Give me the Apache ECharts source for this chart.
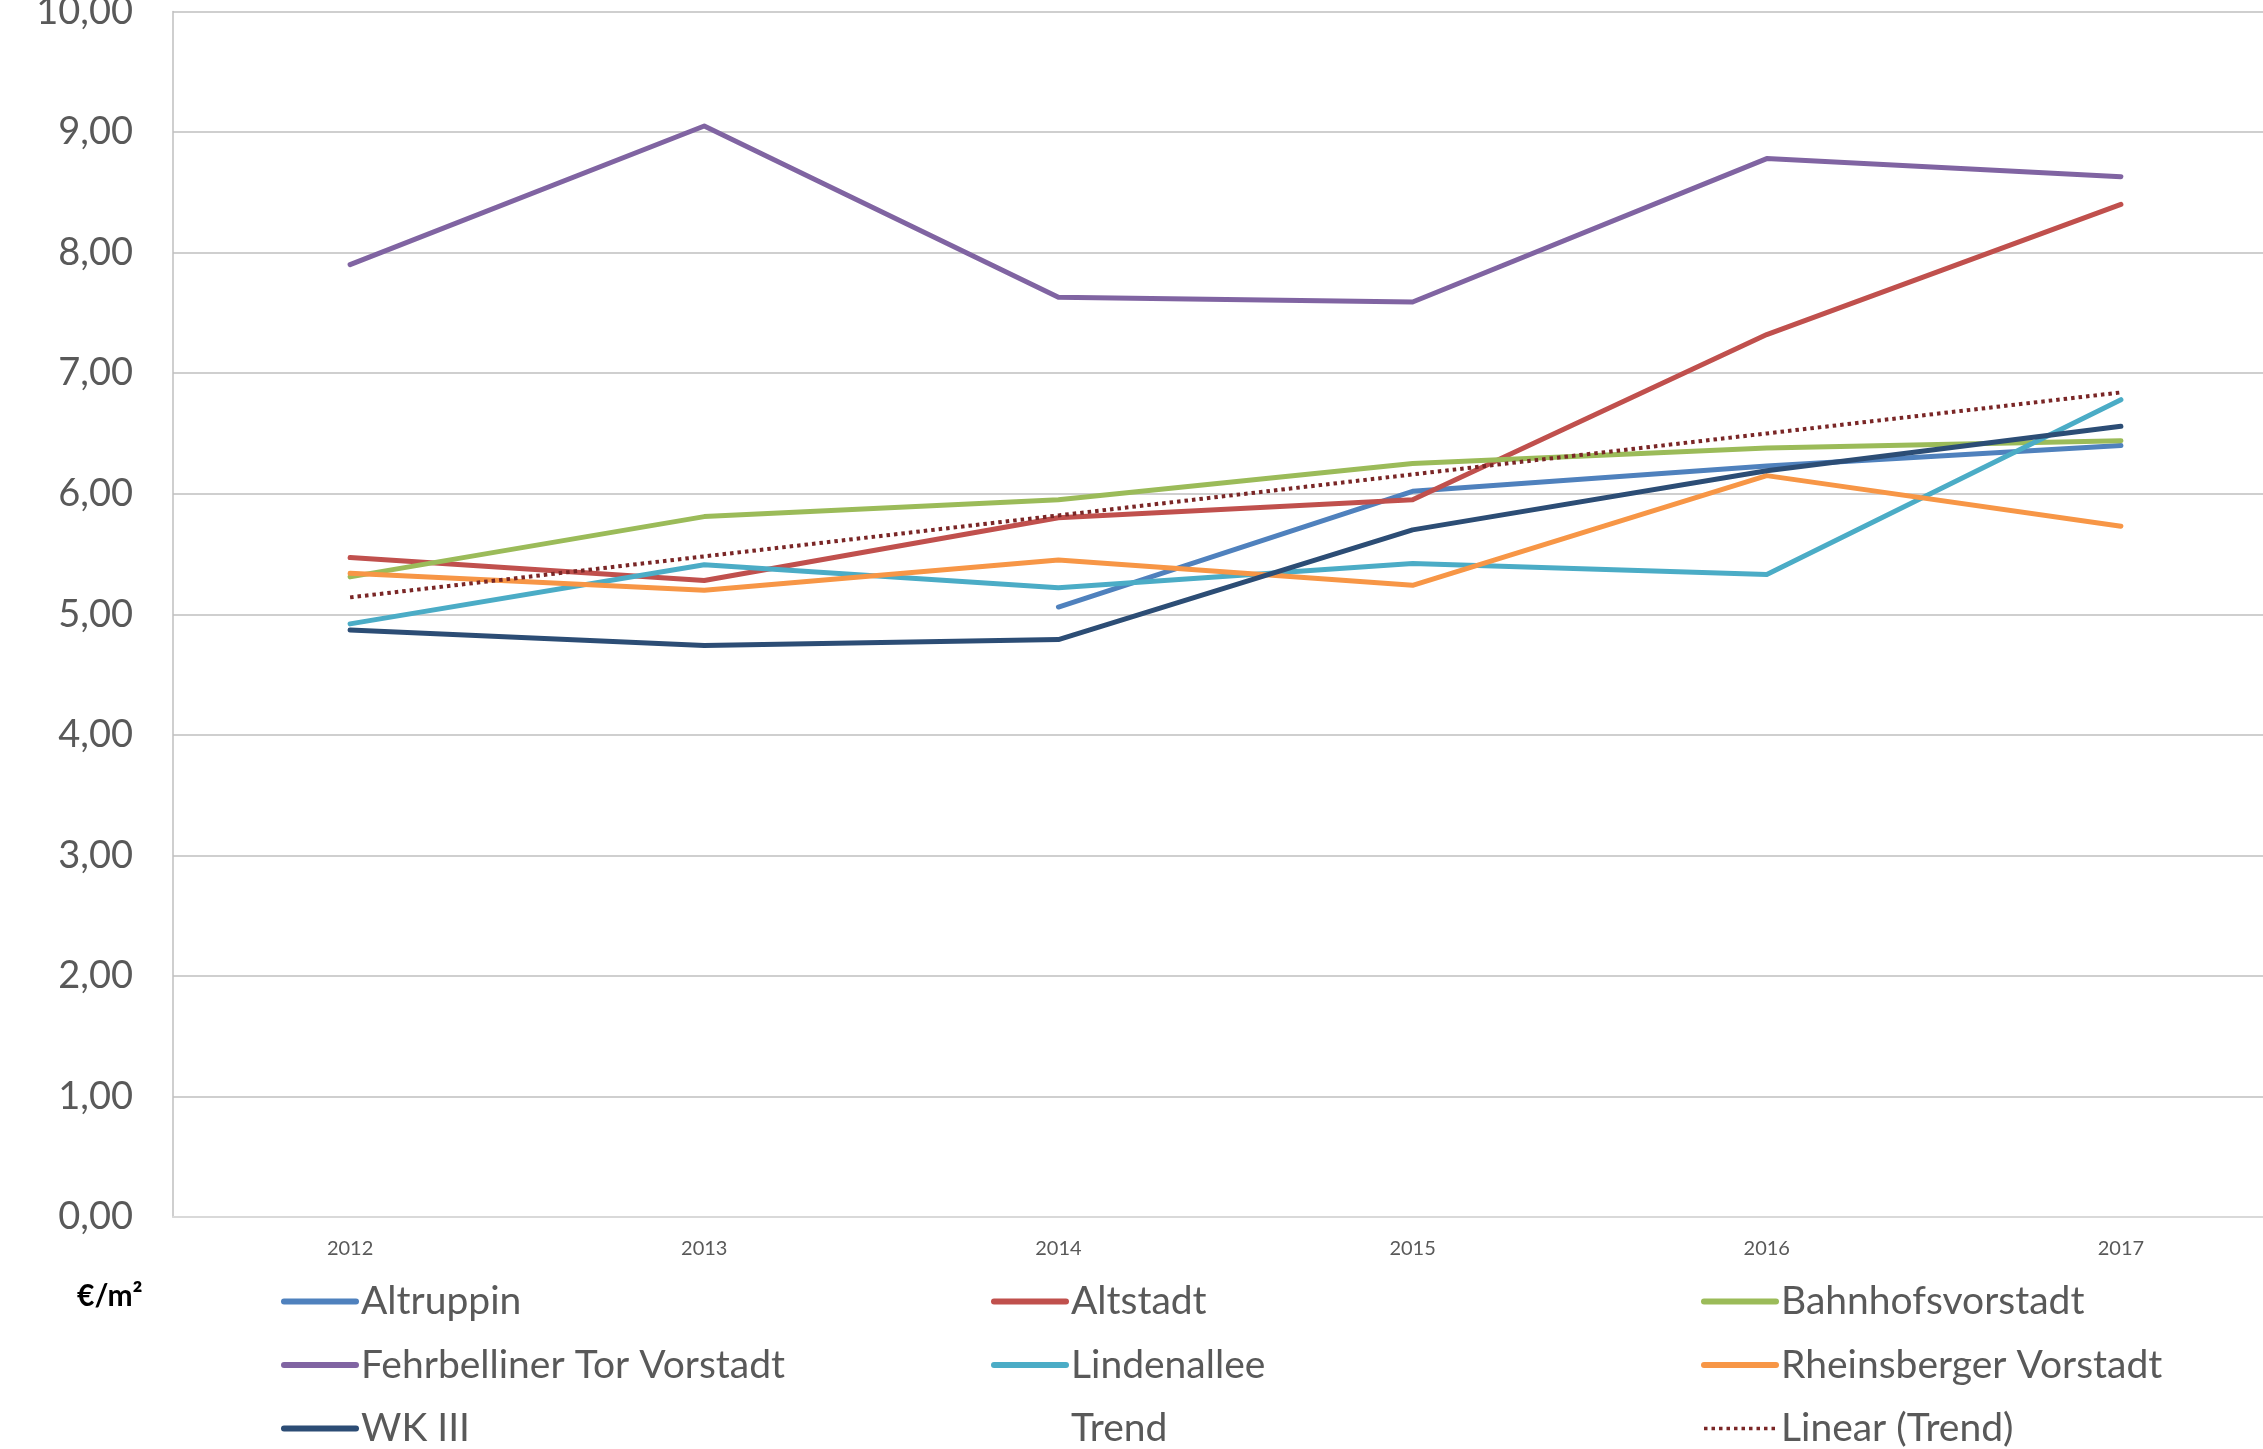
<!DOCTYPE html>
<html>
<head>
<meta charset="utf-8">
<script src="https://cdn.jsdelivr.net/npm/echarts@6/dist/echarts.min.js"></script>
<style>
  html, body { margin: 0; padding: 0; background: #ffffff; }
  #chart { width: 2263px; height: 1449px; }
</style>
</head>
<body>
<div id="chart"></div>
<script>
// Years on the category axis
const years = ['2012', '2013', '2014', '2015', '2016', '2017'];

// Average rent in €/m² per district
const altruppin = [null, null, 5.06, 6.02, 6.23, 6.40];
const altstadt = [5.47, 5.28, 5.80, 5.95, 7.32, 8.40];
const bahnhofsvorstadt = [5.31, 5.81, 5.95, 6.25, 6.38, 6.44];
const fehrbelliner = [7.90, 9.05, 7.63, 7.59, 8.78, 8.63];
const lindenallee = [4.92, 5.41, 5.22, 5.42, 5.33, 6.78];
const rheinsberger = [5.34, 5.20, 5.45, 5.24, 6.15, 5.73];
const wk3 = [4.87, 4.74, 4.79, 5.70, 6.19, 6.56];
const trend = [null, null, null, null, null, null];
const trendLinear = [5.14, 5.48, 5.82, 6.16, 6.50, 6.84];

const FONT = 'Lato, "Open Sans", sans-serif';
const TEXT = '#595959';
const TREND_COLOR = '#7A2626';

function lineSeries(name, data, color, extra) {
  return Object.assign({
    name: name,
    type: 'line',
    data: data,
    symbol: 'none',
    showSymbol: false,
    lineStyle: { color: color, width: 5, cap: 'round', join: 'round' },
    itemStyle: { color: color },
    emphasis: { disabled: true },
    z: 2
  }, extra || {});
}

function legendColumn(left, items) {
  return {
    data: items,
    orient: 'vertical',
    left: left,
    top: 1282,
    height: 200,
    padding: 0,
    itemWidth: 72,
    itemHeight: 12,
    itemGap: 24.5,
    selectedMode: false,
    itemStyle: { opacity: 0 },
    lineStyle: { width: 6 },
    textStyle: { fontFamily: FONT, fontSize: 39, color: TEXT }
  };
}

const chart = echarts.init(document.getElementById('chart'), null, { renderer: 'canvas' });

chart.setOption({
  animation: false,
  backgroundColor: '#ffffff',
  grid: { left: 173, top: 11.5, right: -35, bottom: 232, containLabel: false, outerBoundsMode: 'none' },
  xAxis: {
    type: 'category',
    data: years,
    boundaryGap: true,
    axisLine: { show: true, lineStyle: { color: '#D9D9D9', width: 2 } },
    axisTick: { show: false },
    axisLabel: { fontFamily: FONT, fontSize: 20, color: TEXT, margin: 22 },
    splitLine: { show: false }
  },
  yAxis: {
    type: 'value',
    min: 0,
    max: 10,
    interval: 1,
    axisLine: { show: true, lineStyle: { color: '#BFBFBF', width: 1.5 } },
    axisTick: { show: false },
    axisLabel: {
      fontFamily: FONT, fontSize: 38, color: TEXT, margin: 40,
      formatter: v => v.toFixed(2).replace('.', ',')
    },
    splitLine: { show: true, lineStyle: { color: '#BFBFBF', width: 1.5 } }
  },
  legend: [
    legendColumn(281, ['Altruppin', 'Fehrbelliner Tor Vorstadt', 'WK III']),
    legendColumn(991, ['Altstadt', 'Lindenallee', 'Trend']),
    legendColumn(1701, ['Bahnhofsvorstadt', 'Rheinsberger Vorstadt',
      { name: 'Linear (Trend)', lineStyle: { width: 3.5 } }])
  ],
  graphic: [{
    type: 'text',
    left: 77,
    top: 1281,
    style: { text: '€/m²', fontFamily: FONT, fontSize: 30, fontWeight: 'bold', fill: '#000000' }
  }],
  series: [
    lineSeries('Altruppin', altruppin, '#4F81BD'),
    lineSeries('Altstadt', altstadt, '#C0504D'),
    lineSeries('Bahnhofsvorstadt', bahnhofsvorstadt, '#9BBB59'),
    lineSeries('Fehrbelliner Tor Vorstadt', fehrbelliner, '#8064A2'),
    lineSeries('Lindenallee', lindenallee, '#4BACC6'),
    lineSeries('Rheinsberger Vorstadt', rheinsberger, '#F79646'),
    lineSeries('WK III', wk3, '#2C4D75'),
    lineSeries('Trend', trend, TREND_COLOR, {
      lineStyle: { color: TREND_COLOR, width: 5, opacity: 0 }
    }),
    lineSeries('Linear (Trend)', trendLinear, TREND_COLOR, {
      lineStyle: { color: TREND_COLOR, width: 4, type: [3.5, 4], cap: 'butt' },
      z: 3
    })
  ]
});
</script>
</body>
</html>
